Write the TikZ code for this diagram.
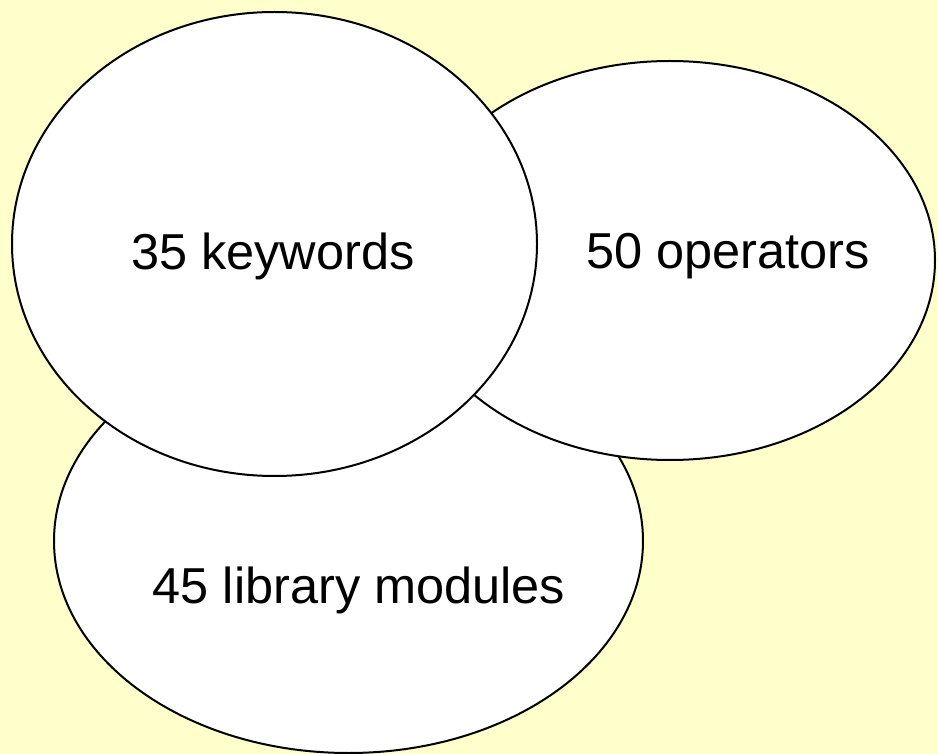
\documentclass[tikz,border=0pt]{standalone}
\usepackage{fontspec}
\setmainfont{Liberation Sans}
\usetikzlibrary{shapes.geometric}
\definecolor{bgyellow}{HTML}{FFFFCC}
\begin{document}
\begin{tikzpicture}[x=1pt,y=-1pt,
  blob/.style={ellipse, draw=black, fill=white, line width=2pt, inner sep=0pt},
  lbl/.style={font=\fontsize{50.5}{60}\selectfont, inner sep=0pt, anchor=center}]
  \fill[bgyellow] (0,0) rectangle (938,754);
  \useasboundingbox (0,0) rectangle (938,754);
  \node[blob, minimum width=589pt, minimum height=424pt] (lib) at (348.5,541) {};
  \node[blob, minimum width=530pt, minimum height=399pt] (ops) at (670,260.5) {};
  \node[blob, minimum width=525pt, minimum height=464pt] (kw) at (274.5,244) {};
  \node[lbl] (kwt) at (273,256) {35 keywords};
  \node[lbl] (opst) at (728,256) {50 operators};
  \node[lbl] (libt) at (359,590) {45 library modules};
\end{tikzpicture}
\end{document}
